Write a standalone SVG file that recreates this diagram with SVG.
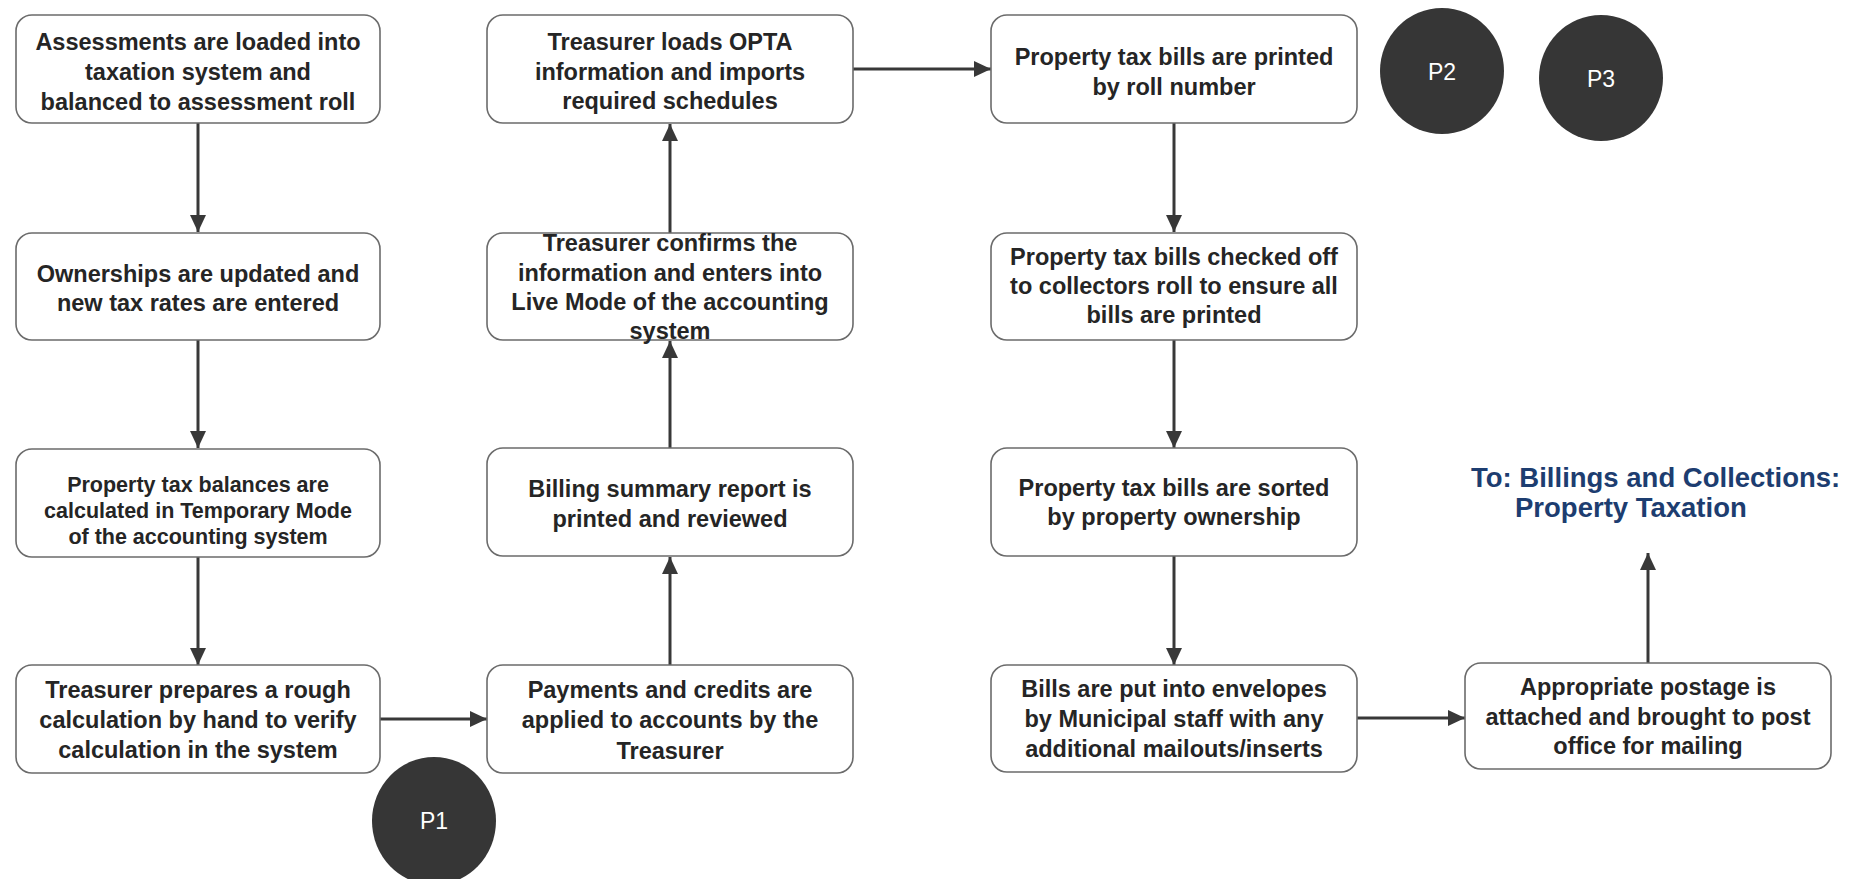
<svg xmlns="http://www.w3.org/2000/svg" width="1864" height="879" viewBox="0 0 1864 879">
  <style>
    .box { fill: #ffffff; stroke: #6b6b6b; stroke-width: 1.6; }
    .lbl { font-family: "Liberation Sans", Arial, sans-serif; font-weight: bold; font-size: 23.5px; fill: #252525; text-anchor: middle; }
    .small { font-size: 21.5px; }
    .wire { fill: none; stroke: #383838; stroke-width: 3; }
    .disc { fill: #363636; }
    .tag { font-family: "Liberation Sans", Arial, sans-serif; font-size: 23px; fill: #ffffff; text-anchor: middle; }
    .dest { font-family: "Liberation Sans", Arial, sans-serif; font-weight: bold; font-size: 27.5px; fill: #1d3d70; }
  </style>
  <defs>
    <marker id="arrow" markerUnits="userSpaceOnUse" markerWidth="18" markerHeight="18" viewBox="0 0 18 18" refX="17" refY="9" orient="auto">
      <path d="M0,1 L17,9 L0,17 Z" fill="#383838"/>
    </marker>
  </defs>
  <rect width="1864" height="879" fill="#ffffff"/>

  <!-- connectors -->
  <g id="connectors">
    <line class="wire" x1="198" y1="123" x2="198" y2="232" marker-end="url(#arrow)"/>
    <line class="wire" x1="198" y1="340" x2="198" y2="448" marker-end="url(#arrow)"/>
    <line class="wire" x1="198" y1="557" x2="198" y2="665" marker-end="url(#arrow)"/>
    <line class="wire" x1="380" y1="719" x2="487" y2="719" marker-end="url(#arrow)"/>
    <line class="wire" x1="670" y1="665" x2="670" y2="557" marker-end="url(#arrow)"/>
    <line class="wire" x1="670" y1="448" x2="670" y2="341" marker-end="url(#arrow)"/>
    <line class="wire" x1="670" y1="233" x2="670" y2="124" marker-end="url(#arrow)"/>
    <line class="wire" x1="853" y1="69" x2="991" y2="69" marker-end="url(#arrow)"/>
    <line class="wire" x1="1174" y1="123" x2="1174" y2="232" marker-end="url(#arrow)"/>
    <line class="wire" x1="1174" y1="340" x2="1174" y2="448" marker-end="url(#arrow)"/>
    <line class="wire" x1="1174" y1="556" x2="1174" y2="665" marker-end="url(#arrow)"/>
    <line class="wire" x1="1357" y1="718" x2="1465" y2="718" marker-end="url(#arrow)"/>
    <line class="wire" x1="1648" y1="663" x2="1648" y2="553" marker-end="url(#arrow)"/>
  </g>

  <!-- first column -->
  <g id="load-assessments">
    <rect class="box" x="16" y="15" width="364" height="108" rx="16"/>
    <text class="lbl" x="198" y="50">Assessments are loaded into</text>
    <text class="lbl" x="198" y="80">taxation system and</text>
    <text class="lbl" x="198" y="110">balanced to assessment roll</text>
  </g>
  <g id="update-ownerships">
    <rect class="box" x="16" y="233" width="364" height="107" rx="16"/>
    <text class="lbl" x="198" y="282">Ownerships are updated and</text>
    <text class="lbl" x="198" y="311">new tax rates are entered</text>
  </g>
  <g id="temporary-mode">
    <rect class="box" x="16" y="449" width="364" height="108" rx="16"/>
    <text class="lbl small" x="198" y="492">Property tax balances are</text>
    <text class="lbl small" x="198" y="518">calculated in Temporary Mode</text>
    <text class="lbl small" x="198" y="544">of the accounting system</text>
  </g>
  <g id="rough-calculation">
    <rect class="box" x="16" y="665" width="364" height="108" rx="16"/>
    <text class="lbl" x="198" y="698">Treasurer prepares a rough</text>
    <text class="lbl" x="198" y="728">calculation by hand to verify</text>
    <text class="lbl" x="198" y="758">calculation in the system</text>
  </g>

  <!-- second column -->
  <g id="load-opta">
    <rect class="box" x="487" y="15" width="366" height="108" rx="16"/>
    <text class="lbl" x="670" y="50">Treasurer loads OPTA</text>
    <text class="lbl" x="670" y="80">information and imports</text>
    <text class="lbl" x="670" y="109">required schedules</text>
  </g>
  <g id="live-mode">
    <rect class="box" x="487" y="233" width="366" height="107" rx="16"/>
    <text class="lbl" x="670" y="251">Treasurer confirms the</text>
    <text class="lbl" x="670" y="281">information and enters into</text>
    <text class="lbl" x="670" y="310">Live Mode of the accounting</text>
    <text class="lbl" x="670" y="339">system</text>
  </g>
  <g id="billing-summary">
    <rect class="box" x="487" y="448" width="366" height="108" rx="16"/>
    <text class="lbl" x="670" y="497">Billing summary report is</text>
    <text class="lbl" x="670" y="527">printed and reviewed</text>
  </g>
  <g id="payments-credits">
    <rect class="box" x="487" y="665" width="366" height="108" rx="16"/>
    <text class="lbl" x="670" y="698">Payments and credits are</text>
    <text class="lbl" x="670" y="728">applied to accounts by the</text>
    <text class="lbl" x="670" y="759">Treasurer</text>
  </g>

  <!-- third column -->
  <g id="print-bills">
    <rect class="box" x="991" y="15" width="366" height="108" rx="16"/>
    <text class="lbl" x="1174" y="65">Property tax bills are printed</text>
    <text class="lbl" x="1174" y="95">by roll number</text>
  </g>
  <g id="check-bills">
    <rect class="box" x="991" y="233" width="366" height="107" rx="16"/>
    <text class="lbl" x="1174" y="265">Property tax bills checked off</text>
    <text class="lbl" x="1174" y="294">to collectors roll to ensure all</text>
    <text class="lbl" x="1174" y="323">bills are printed</text>
  </g>
  <g id="sort-bills">
    <rect class="box" x="991" y="448" width="366" height="108" rx="16"/>
    <text class="lbl" x="1174" y="496">Property tax bills are sorted</text>
    <text class="lbl" x="1174" y="525">by property ownership</text>
  </g>
  <g id="envelopes">
    <rect class="box" x="991" y="665" width="366" height="107" rx="16"/>
    <text class="lbl" x="1174" y="697">Bills are put into envelopes</text>
    <text class="lbl" x="1174" y="727">by Municipal staff with any</text>
    <text class="lbl" x="1174" y="757">additional mailouts/inserts</text>
  </g>

  <!-- mailing step and hand-off -->
  <g id="postage">
    <rect class="box" x="1465" y="663" width="366" height="106" rx="16"/>
    <text class="lbl" x="1648" y="695">Appropriate postage is</text>
    <text class="lbl" x="1648" y="725">attached and brought to post</text>
    <text class="lbl" x="1648" y="754">office for mailing</text>
  </g>
  <g id="handoff">
    <text class="dest" x="1471" y="487">To: Billings and Collections:</text>
    <text class="dest" x="1515" y="517">Property Taxation</text>
  </g>

  <!-- process markers -->
  <g id="p1">
    <ellipse class="disc" cx="434" cy="821" rx="62" ry="64"/>
    <text class="tag" x="434" y="829">P1</text>
  </g>
  <g id="p2">
    <ellipse class="disc" cx="1442" cy="71" rx="62" ry="63"/>
    <text class="tag" x="1442" y="80">P2</text>
  </g>
  <g id="p3">
    <ellipse class="disc" cx="1601" cy="78" rx="62" ry="63"/>
    <text class="tag" x="1601" y="87">P3</text>
  </g>
</svg>
